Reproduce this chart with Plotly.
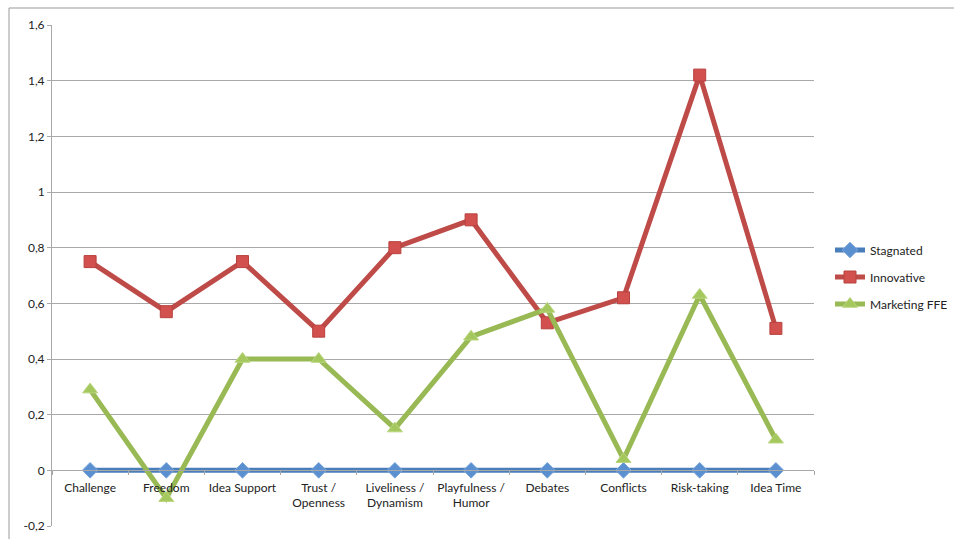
import plotly.graph_objects as go

# Climate dimensions on the category axis
categories = ["Challenge", "Freedom", "Idea Support", "Trust /<br>Openness",
              "Liveliness /<br>Dynamism", "Playfulness /<br>Humor", "Debates",
              "Conflicts", "Risk-taking", "Idea Time"]

stagnated = [0, 0, 0, 0, 0, 0, 0, 0, 0, 0]
innovative = [0.75, 0.57, 0.75, 0.50, 0.80, 0.90, 0.53, 0.62, 1.42, 0.51]
marketing_ffe = [0.29, -0.10, 0.40, 0.40, 0.15, 0.48, 0.58, 0.04, 0.63, 0.11]

y_tick_vals = [-0.2, 0, 0.2, 0.4, 0.6, 0.8, 1.0, 1.2, 1.4, 1.6]
y_tick_text = ["-0,2", "0", "0,2", "0,4", "0,6", "0,8", "1", "1,2", "1,4", "1,6"]

FONT = "Lato, 'Liberation Sans', sans-serif"
GRID = "#a8a8a8"

W, H = 954, 539
ML, MR, MT, MB = 52, 140, 25, 13
pw, ph = W - ML - MR, H - MT - MB

fig = go.Figure()

series = [
    # name, values, line colour, marker symbol, size, marker fill, marker edge
    ("Stagnated", stagnated, "#4a7ebb", "diamond", 12, "#5a8fd0", "#7aa6dc"),
    ("Innovative", innovative, "#be4b48", "square", 12, "#d2504d", "#b8423f"),
    ("Marketing FFE", marketing_ffe, "#98b954", "triangle-up", 13, "#a5c85e", "#b9d57f"),
]
for i, (name, vals, col, sym, sz, fill, edge) in enumerate(series):
    fig.add_trace(go.Scatter(
        x=categories, y=vals, name=name, mode="lines+markers",
        line=dict(color=col, width=5),
        marker=dict(symbol=sym, size=sz, color=fill, line=dict(color=edge, width=1)),
        legendgroup=f"g{i}",
    ))

# position of the zero line within the plot (paper fraction)
zero_pos = (0 - (-0.2)) / (1.6 - (-0.2))

fig.update_layout(
    width=W, height=H,
    margin=dict(l=ML, r=MR, t=MT, b=MB, autoexpand=False),
    paper_bgcolor="white", plot_bgcolor="white",
    font=dict(family=FONT, size=12, color="#222"),
    showlegend=True,
    legend=dict(x=(830 - ML) / pw, xanchor="left",
                y=(H - MB - 277) / ph, yanchor="middle",
                font=dict(size=12, color="#222"),
                tracegroupgap=8, itemwidth=30,
                bgcolor="rgba(0,0,0,0)"),
    xaxis=dict(
        type="category", range=[-0.5, 9.5],
        anchor="free", position=zero_pos, automargin=False,
        showline=True, linecolor=GRID, linewidth=1,
        ticks="outside", ticklen=4, tickcolor=GRID, tickson="boundaries",
        tickangle=0, ticklabelstandoff=6,
        showgrid=False, zeroline=False,
        tickfont=dict(size=12, color="#222"),
    ),
    yaxis=dict(
        range=[-0.2, 1.6], tickvals=y_tick_vals, ticktext=y_tick_text,
        automargin=False,
        showgrid=True, gridcolor=GRID, gridwidth=1,
        zeroline=False, showline=True, linecolor=GRID, linewidth=1,
        ticks="outside", ticklen=4, tickcolor=GRID,
        tickfont=dict(size=12, color="#222"),
    ),
    shapes=[
        # outer chart frame (top and left edges)
        dict(type="line", xref="paper", yref="paper",
             x0=(9 - ML) / pw, x1=(W - ML) / pw,
             y0=(H - MB - 8) / ph, y1=(H - MB - 8) / ph,
             line=dict(color="#999", width=1)),
        dict(type="line", xref="paper", yref="paper",
             x0=(9 - ML) / pw, x1=(9 - ML) / pw,
             y0=(H - MB - 8) / ph, y1=-MB / ph - 0.01,
             line=dict(color="#999", width=1)),
    ],
)

fig.write_html("out.html")
